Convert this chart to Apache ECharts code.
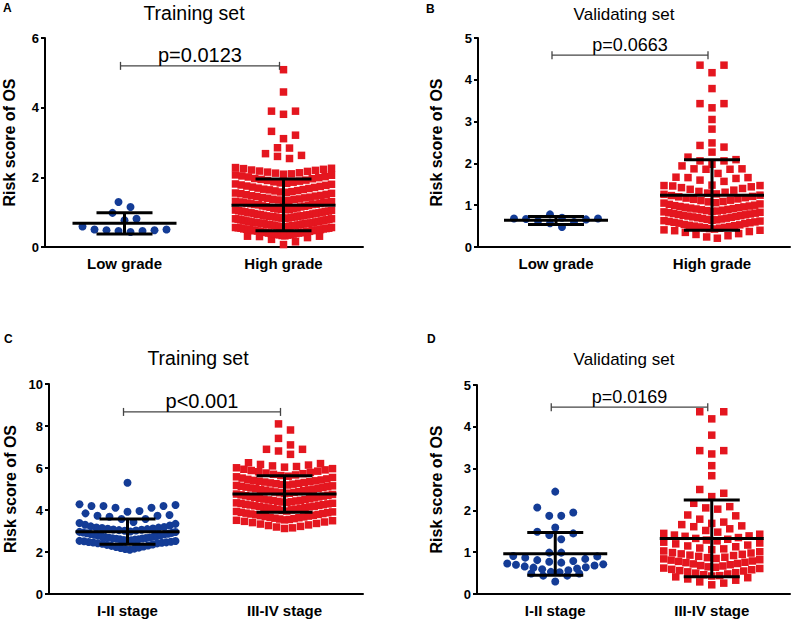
<!DOCTYPE html>
<html><head><meta charset="utf-8">
<script src="https://cdn.jsdelivr.net/npm/echarts@6/dist/echarts.min.js"></script>
<style>html,body{margin:0;padding:0;background:#fff}#c{width:793px;height:621px}</style>
</head><body><div id="c"></div>
<script>
// ---------- data ----------
const gradeCategories = ['Low grade', 'High grade'];
const stageCategories = ['I-II stage', 'III-IV stage'];
const panelLetters = ['A', 'B', 'C', 'D'];
const panelTitles = ['Training set', 'Validating set', 'Training set', 'Validating set'];
const pValueLabels = ['p=0.0123', 'p=0.0663', 'p<0.001', 'p=0.0169'];
const bracketLevels = [5.2, 4.59, 8.67, 4.47];
const yAxisMax = [6, 5, 10, 5];
const yAxisInterval = [2, 1, 2, 1];
const yAxisTitle = 'Risk score of OS';

const trainLowGrade = [0.77,0.50,0.48,0.98,0.46,1.29,0.81,0.43,1.15,0.46,0.48,0.50,0.59];
const trainHighGrade = [
  0.07,0.15,0.22,0.27,
  0.30,0.31,0.31,0.32,0.33,0.34,0.35,0.35,0.36,0.37,0.37,0.38,0.39,0.40,0.40,0.41,0.42,0.43,0.43,0.44,0.45,0.45,0.46,0.47,0.47,0.48,0.49,0.49,0.50,0.50,
  0.51,0.52,0.52,0.53,0.54,0.54,0.55,0.56,0.56,0.57,0.58,0.58,0.59,0.60,0.60,0.61,0.62,0.62,0.63,0.63,0.64,0.65,0.65,0.66,0.67,0.67,0.68,0.68,0.69,0.69,0.70,0.70,
  0.71,0.72,0.72,0.73,0.74,0.75,0.75,0.76,0.77,0.78,0.78,0.79,0.80,0.81,0.81,0.82,0.83,0.83,0.84,0.85,0.86,0.86,0.87,0.88,0.88,0.89,0.89,0.90,
  0.91,0.92,0.93,0.93,0.94,0.95,0.96,0.97,0.98,0.98,0.99,1.00,1.01,1.02,1.03,1.03,1.04,1.05,1.06,1.07,1.08,1.08,1.09,1.10,
  1.11,1.12,1.14,1.15,1.16,1.17,1.18,1.19,1.21,1.22,1.22,1.23,1.24,1.25,1.26,1.27,1.28,1.29,1.29,1.30,
  1.31,1.32,1.34,1.35,1.36,1.37,1.38,1.40,1.41,1.42,1.43,1.45,1.46,1.47,1.48,1.50,
  1.51,1.53,1.54,1.55,1.57,1.58,1.59,1.61,1.62,1.64,1.65,1.66,1.68,1.69,
  1.71,1.72,1.74,1.75,1.77,1.78,1.80,1.81,1.83,1.84,1.86,1.87,1.89,
  1.91,1.92,1.94,1.96,1.97,1.99,2.01,2.02,2.04,2.06,2.07,2.09,
  2.10,2.12,2.13,2.15,2.17,2.18,2.20,2.21,2.23,2.25,2.26,2.28,
  2.54,2.60,2.63,2.68,2.84,2.85,3.11,3.21,3.32,3.81,3.90,3.90,4.45,5.09
];
const validLowGrade = [0.78,0.67,0.66,0.48,0.57,0.68,0.68,0.62,0.60,0.70];
const validHighGrade = [
  4.35,4.17,4.35,3.79,3.43,3.33,3.43,3.05,2.82,2.43,2.27,2.39,2.49,
  2.15,2.06,1.98,2.06,2.09,1.86,1.87,1.87,1.94,1.86,1.66,1.66,1.60,1.57,1.64,1.67,1.76,1.48,1.46,1.42,1.40,1.36,1.38,1.44,1.47,1.47,1.33,1.31,
  0.21,0.24,0.27,0.30,0.32,0.35,0.37,0.39,
  0.40,0.41,0.43,0.44,0.45,0.46,0.47,0.48,0.49,0.50,0.51,0.52,0.53,0.54,0.56,0.57,0.58,0.59,
  0.60,0.61,0.62,0.63,0.64,0.65,0.66,0.67,0.68,0.69,0.70,0.71,0.72,0.73,0.74,0.75,0.76,0.77,0.78,0.79,
  0.80,0.81,0.82,0.83,0.84,0.85,0.86,0.87,0.88,0.89,0.90,0.91,0.92,0.93,0.94,0.95,0.96,0.97,0.98,0.99,
  1.00,1.02,1.03,1.05,1.06,1.08,1.09,1.11,1.12,1.14,1.15,1.17,1.18,1.20,1.21,1.23,1.24,1.26,1.27,1.29
];
const trainEarlyStage = [
  5.30,4.27,4.24,4.19,4.19,4.19,4.11,4.11,3.95,3.92,3.84,3.76,3.73,3.73,3.68,3.57,3.57,
  2.11,2.14,2.16,2.19,2.21,2.24,2.26,2.29,2.31,2.34,2.36,2.39,
  2.41,2.42,2.44,2.45,2.46,2.48,2.49,2.51,2.52,2.53,2.55,2.56,2.57,2.59,2.60,2.61,2.63,2.64,2.65,2.67,2.68,2.69,
  2.71,2.73,2.75,2.76,2.78,2.80,2.82,2.84,2.85,2.87,2.89,2.91,2.93,2.95,2.96,2.98,
  3.01,3.02,3.04,3.06,3.07,3.09,3.11,3.12,3.14,3.16,3.17,3.19,
  3.22,3.26,3.30,3.34,3.38,3.43
];
const trainLateStage = [
  8.10,7.81,7.41,6.89,6.81,6.65,6.89,7.10,
  3.12,3.15,3.19,3.22,3.26,3.29,3.33,3.36,3.40,3.43,3.46,3.49,
  3.51,3.53,3.55,3.57,3.59,3.61,3.63,3.65,3.67,3.69,3.71,3.73,3.75,3.77,3.79,3.81,3.83,3.85,3.87,3.89,3.91,3.93,3.95,3.98,
  4.01,4.03,4.04,4.06,4.08,4.10,4.11,4.13,4.15,4.17,4.18,4.20,4.22,4.24,4.25,4.27,4.29,4.31,4.32,4.34,4.36,4.38,4.39,4.41,4.43,4.45,4.46,4.48,
  4.50,4.52,4.54,4.56,4.58,4.60,4.62,4.64,4.66,4.68,4.70,4.72,4.74,4.76,4.78,4.80,4.82,4.84,4.86,4.88,4.90,4.92,4.94,4.96,4.97,4.99,
  5.01,5.03,5.05,5.07,5.09,5.11,5.13,5.15,5.17,5.19,5.21,5.23,5.25,5.27,5.29,5.31,5.33,5.35,5.37,5.39,5.41,5.43,5.46,5.48,
  5.52,5.55,5.58,5.61,5.64,5.67,5.70,5.73,5.76,5.79,5.82,5.85,5.88,5.91,5.94,5.97,
  6.01,6.04,6.07,6.10,6.14,6.17,6.21,6.25
];
const validEarlyStage = [
  2.45,2.07,1.95,1.87,1.87,1.59,1.49,1.45,1.41,1.31,0.99,0.99,0.91,
  0.30,0.44,0.44,0.49,0.49,0.52,0.53,0.57,0.59,
  0.61,0.63,0.64,0.66,0.68,0.70,0.71,0.73,0.75,0.77,0.79,0.81,0.84,0.87,0.90
];
const validLateStage = [
  4.36,4.19,4.36,3.80,3.43,3.35,3.43,3.07,2.83,2.50,2.33,2.41,2.17,
  2.09,2.03,2.06,1.89,1.87,1.69,1.63,1.79,1.61,1.66,1.72,1.45,1.43,1.52,1.38,1.35,1.41,1.48,1.33,1.56,1.39,1.31,
  0.22,0.26,0.29,0.33,0.36,0.39,
  0.41,0.43,0.44,0.46,0.48,0.50,0.51,0.53,0.55,0.56,0.58,0.59,
  0.61,0.62,0.64,0.65,0.67,0.68,0.70,0.72,0.73,0.75,0.76,0.78,0.79,
  0.81,0.82,0.84,0.85,0.87,0.88,0.90,0.92,0.93,0.95,0.96,0.98,0.99,
  1.01,1.03,1.06,1.08,1.10,1.13,1.15,1.17,1.20,1.22,1.24,1.27,1.29
];
// mean and mean-SD / mean+SD per group
const meanA = [0.68, 1.20], sdLowA = [0.37, 0.47], sdHighA = [0.98, 1.95];
const meanB = [0.64, 1.24], sdLowB = [0.54, 0.40], sdHighB = [0.73, 2.09];
const meanC = [2.97, 4.76], sdLowC = [2.37, 3.89], sdHighC = [3.57, 5.63];
const meanD = [0.96, 1.33], sdLowD = [0.45, 0.41], sdHighD = [1.47, 2.25];

// ---------- layout / style ----------
const FONT = 'Liberation Sans, Arial, Helvetica, sans-serif';
const BLUE = '#143C96', RED = '#E4161F';
const grids = [
  {left: 45, top: 38, width: 318, height: 209},
  {left: 478, top: 38, width: 312, height: 209},
  {left: 49, top: 384, width: 314, height: 210},
  {left: 477, top: 385, width: 313, height: 209}
];
const nameGaps = [28, 34, 31, 33];
const titlePos = [[194, 13, 19.5], [624, 14, 17], [198, 358, 19.5], [624, 359, 17]];
const letterPos = [[3, 8], [426, 9], [4, 339], [427, 339]];
const pFont = [20, 18, 20, 18];
const panels = [
  {cats: gradeCategories, groups: [trainLowGrade, trainHighGrade], mean: meanA, lo: sdLowA, hi: sdHighA},
  {cats: gradeCategories, groups: [validLowGrade, validHighGrade], mean: meanB, lo: sdLowB, hi: sdHighB},
  {cats: stageCategories, groups: [trainEarlyStage, trainLateStage], mean: meanC, lo: sdLowC, hi: sdHighC},
  {cats: stageCategories, groups: [validEarlyStage, validLateStage], mean: meanD, lo: sdLowD, hi: sdHighD}
];
const SYM = [8, 7.5];      // circle diameter, square side (px)
const STEP_MAX = 12, SPAN = 96;

// column-scatter layout: group values into rows one symbol high, spread each row sideways
function swarm(values, ppu, sym) {
  const s = values.slice().sort((a, b) => a - b);
  const h = (sym + 1) / ppu;
  const out = [];
  let i = 0;
  while (i < s.length) {
    let j = i;
    while (j < s.length && s[j] < s[i] + h) j++;
    const n = j - i;
    const step = n > 1 ? Math.min(STEP_MAX, SPAN / (n - 1)) : 0;
    for (let k = 0; k < n; k++) {
      let slot;
      if (n % 2) slot = k === 0 ? 0 : (k % 2 ? (k + 1) / 2 : -k / 2);
      else slot = (k % 2 === 0 ? 1 : -1) * (Math.floor(k / 2) + 0.5);
      out.push([s[i + k], slot * step]);
    }
    i = j;
  }
  return out;
}

const xAxes = [], yAxes = [], series = [], graphics = [];
panels.forEach((p, gi) => {
  const ppu = grids[gi].height / yAxisMax[gi];
  xAxes.push({
    type: 'category', gridIndex: gi, data: p.cats, boundaryGap: true,
    axisLine: {lineStyle: {color: '#000', width: 2}},
    axisTick: {alignWithLabel: true, length: 5, lineStyle: {color: '#000', width: 2}},
    axisLabel: {color: '#000', fontWeight: 'bold', fontSize: 15, fontFamily: FONT, margin: 9},
    splitLine: {show: false}
  });
  yAxes.push({
    type: 'value', gridIndex: gi, min: 0, max: yAxisMax[gi], interval: yAxisInterval[gi],
    name: yAxisTitle, nameLocation: 'middle', nameRotate: 90, nameGap: nameGaps[gi],
    nameTextStyle: {color: '#000', fontWeight: 'bold', fontSize: 16, fontFamily: FONT},
    axisLine: {show: true, lineStyle: {color: '#000', width: 2}},
    axisTick: {show: true, length: 4, lineStyle: {color: '#000', width: 2}},
    axisLabel: {color: '#000', fontWeight: 'bold', fontSize: 13, fontFamily: FONT, margin: 6},
    splitLine: {show: false}
  });
  const pts = [];
  p.groups.forEach((vals, ci) => {
    swarm(vals, ppu, SYM[ci]).forEach(([v, dx]) => pts.push([ci, v, dx]));
  });
  series.push({
    type: 'custom', xAxisIndex: gi, yAxisIndex: gi, data: pts, silent: true,
    encode: {x: 0, y: 1},
    renderItem: (params, api) => {
      const ci = api.value(0);
      const c = api.coord([ci, api.value(1)]);
      const x = c[0] + api.value(2);
      if (ci === 0) return {type: 'circle', shape: {cx: x, cy: c[1], r: SYM[0] / 2}, style: {fill: BLUE}};
      const s = SYM[1];
      return {type: 'rect', shape: {x: x - s / 2, y: c[1] - s / 2, width: s, height: s}, style: {fill: RED}};
    }
  });
  series.push({
    type: 'custom', xAxisIndex: gi, yAxisIndex: gi, silent: true, z: 5,
    data: [0, 1].map(ci => [ci, p.mean[ci], p.lo[ci], p.hi[ci]]),
    encode: {x: 0, y: 1},
    renderItem: (params, api) => {
      const ci = api.value(0);
      const m = api.coord([ci, api.value(1)]);
      const lo = api.coord([ci, api.value(2)]);
      const hi = api.coord([ci, api.value(3)]);
      const st = {stroke: '#000', lineWidth: 3};
      return {type: 'group', children: [
        {type: 'line', shape: {x1: m[0] - 52, y1: m[1], x2: m[0] + 52, y2: m[1]}, style: st},
        {type: 'line', shape: {x1: m[0], y1: lo[1], x2: m[0], y2: hi[1]}, style: st},
        {type: 'line', shape: {x1: m[0] - 28, y1: lo[1], x2: m[0] + 28, y2: lo[1]}, style: st},
        {type: 'line', shape: {x1: m[0] - 28, y1: hi[1], x2: m[0] + 28, y2: hi[1]}, style: st}
      ]};
    }
  });
  series.push({
    type: 'custom', xAxisIndex: gi, yAxisIndex: gi, silent: true, z: 6,
    data: [[0, bracketLevels[gi]]],
    encode: {x: 0, y: 1},
    renderItem: (params, api) => {
      const a = api.coord([0, api.value(1)]);
      const b = api.coord([1, api.value(1)]);
      const x1 = a[0] - 4, x2 = b[0] - 4, y = a[1];
      const st = {stroke: '#444', lineWidth: 1.3};
      return {type: 'group', children: [
        {type: 'line', shape: {x1: x1, y1: y, x2: x2, y2: y}, style: st},
        {type: 'line', shape: {x1: x1, y1: y - 4, x2: x1, y2: y + 4}, style: st},
        {type: 'line', shape: {x1: x2, y1: y - 4, x2: x2, y2: y + 4}, style: st},
        {type: 'text', style: {text: pValueLabels[gi], x: (x1 + x2) / 2, y: y - 1, align: 'center', verticalAlign: 'bottom',
          fontSize: pFont[gi], fontFamily: FONT, fill: '#000'}}
      ]};
    }
  });
  graphics.push({type: 'text', x: titlePos[gi][0], y: titlePos[gi][1],
    style: {text: panelTitles[gi], align: 'center', verticalAlign: 'middle', fontSize: titlePos[gi][2], fontFamily: FONT, fill: '#000'}});
  graphics.push({type: 'text', x: letterPos[gi][0], y: letterPos[gi][1],
    style: {text: panelLetters[gi], align: 'left', verticalAlign: 'middle', fontSize: 12, fontWeight: 'bold', fontFamily: FONT, fill: '#000'}});
});

const chart = echarts.init(document.getElementById('c'), null, {renderer: 'svg'});
chart.setOption({
  animation: false,
  backgroundColor: '#fff',
  grid: grids,
  xAxis: xAxes,
  yAxis: yAxes,
  series: series,
  graphic: graphics
});
</script>
</body></html>
